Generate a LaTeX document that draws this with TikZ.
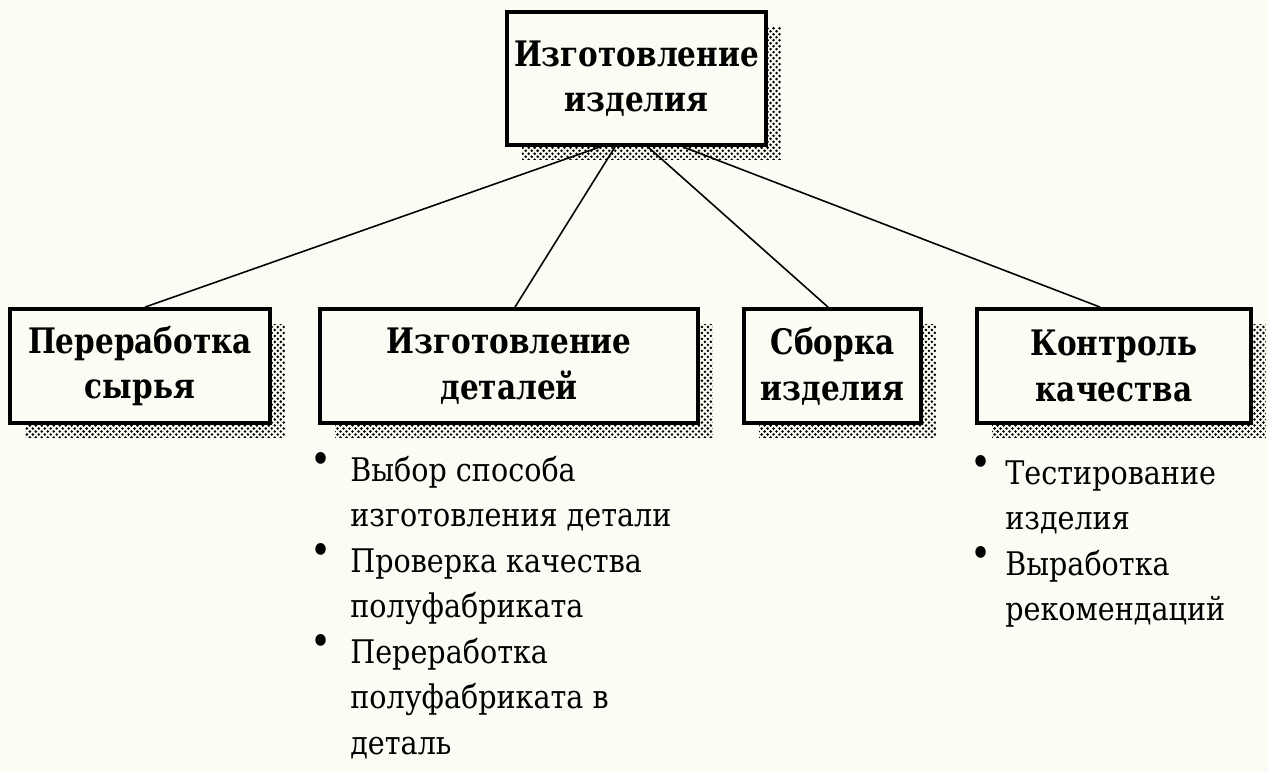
\documentclass[tikz,border=0pt]{standalone}
\usepackage{fontspec}
\usetikzlibrary{shadows,patterns}
\newfontfamily\hdfont{DejaVu Serif}[FakeStretch=0.84]
\newfontfamily\txtfont{DejaVu Serif}[FakeStretch=0.88]
\definecolor{paper}{RGB}{253,252,244}
\newcommand{\bul}[1][0.38cm]{\llap{\raisebox{0.25em}{\scalebox{1.25}{\textbullet}}\hspace{#1}}}
\pgfdeclarepatternformonly{shadowdots}{\pgfqpoint{-1pt}{-1pt}}{\pgfqpoint{3.4pt}{3.4pt}}{\pgfqpoint{3.4pt}{3.4pt}}{
  \pgfpathcircle{\pgfqpoint{0pt}{0pt}}{0.8pt}
  \pgfpathcircle{\pgfqpoint{1.7pt}{1.7pt}}{0.8pt}
  \pgfusepath{fill}
}

\begin{document}
\begin{tikzpicture}[x=0.02cm, y=-0.02cm,
  block/.style={draw, line width=2.2pt, fill=paper, align=center, minimum height=2.28cm,
    font=\hdfont\bfseries\fontsize{20}{26}\selectfont,
    drop shadow={shadow xshift=0.3cm, shadow yshift=-0.3cm, pattern=shadowdots, opacity=1}},
  items/.style={anchor=north west, align=left, inner sep=0pt, font=\txtfont\fontsize{18.5}{25.9}\selectfont},
  link/.style={line width=0.9pt}]
\fill[paper] (0,0) rectangle (1268,772);
\useasboundingbox (0,0) rectangle (1268,772);

% boxes
\node[block, minimum width=5.18cm, minimum height=2.66cm] (top) at (636.5, 78.5) {Изготовление\\изделия};
\node[block, minimum width=5.2cm] (raw) at (140, 366) {Переработка\\сырья};
\node[block, minimum width=7.56cm] (parts) at (509, 366) {Изготовление\\деталей};
\node[block, minimum width=3.54cm] (assembly) at (832.5, 366) {Сборка\\изделия};
\node[block, minimum width=5.48cm] (control) at (1114, 366) {Контроль\\качества};

% links
\draw[link] ([xshift=-0.73cm]top.south) -- ([xshift=0.1cm]raw.north);
\draw[link] ([xshift=-0.43cm]top.south) -- ([xshift=0.12cm]parts.north);
\draw[link] ([xshift=0.23cm]top.south) -- ([xshift=-0.09cm]assembly.north);
\draw[link] ([xshift=0.93cm]top.south) -- ([xshift=-0.28cm]control.north);

% lists
\node[items] (partsteps) at (350, 452) {\bul Выбор способа\\изготовления детали\\\bul Проверка качества\\полуфабриката\\\bul Переработка\\полуфабриката в\\деталь};
\node[items] (checksteps) at (1005, 455) {\bul[0.28cm]Тестирование\\изделия\\\bul[0.28cm]Выработка\\рекомендаций};

\end{tikzpicture}
\end{document}
